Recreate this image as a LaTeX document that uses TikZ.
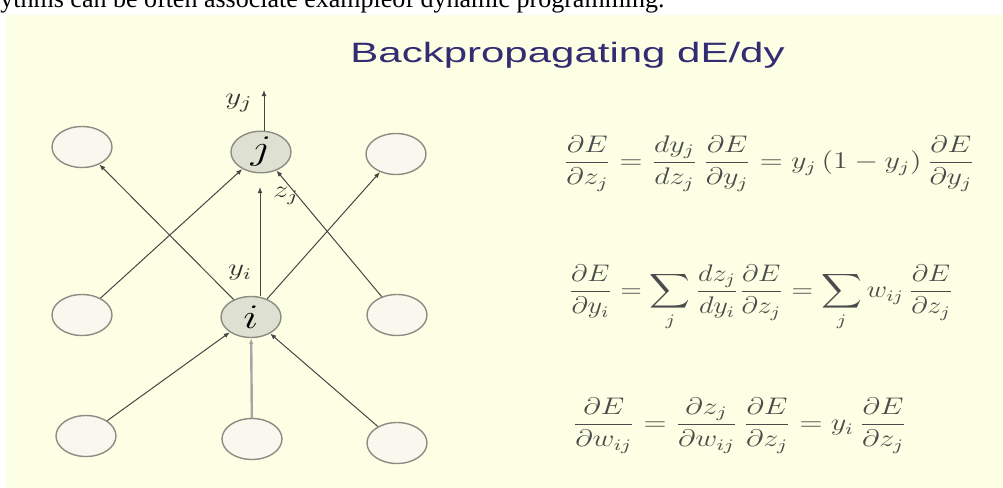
\documentclass[tikz,border=0pt]{standalone}
\usepackage{fontspec}
\setmainfont{Liberation Serif}
\newfontfamily\titlefont{Liberation Sans}
\usepackage{amsmath}
\usetikzlibrary{shapes.geometric,arrows.meta,calc}
\definecolor{slidebg}{RGB}{253,255,228}
\definecolor{titleblue}{RGB}{50,45,115}
\definecolor{eqgray}{RGB}{75,75,75}
\definecolor{edgegray}{RGB}{70,70,70}
\definecolor{ringgray}{RGB}{140,140,130}
\definecolor{unitfill}{RGB}{248,248,238}
\definecolor{activefill}{RGB}{222,224,210}
\begin{document}
\begin{tikzpicture}[x=0.5pt,y=-0.5pt,
  unit/.style={ellipse,draw=ringgray,line width=0.7pt,fill=unitfill,
    minimum width=30pt,minimum height=20.5pt,inner sep=0pt},
  active/.style={unit,fill=activefill},
  arr/.style={draw=edgegray,line width=0.5pt,-{Latex[length=3pt,width=2.4pt]}},
  lbl/.style={inner sep=0pt,text=black!80},
  eq/.style={inner sep=0pt,anchor=base west,text=eqgray}]
\useasboundingbox (0,0) rectangle (1003,488);
\fill[white] (0,0) rectangle (1003,488);
\fill[slidebg] (6,15) rectangle (1003,488);
% cut-off web text above the slide
\node[anchor=base west,inner sep=0pt,font=\fontsize{13pt}{15pt}\selectfont] (webtext) at (0,7)
  {ythms can be often associate exampleof dynamic programming.};
% title
\node[anchor=base west,inner sep=0pt,text=titleblue] (title) at (350,62)
  {\scalebox{1.5}[1]{\titlefont\fontsize{14pt}{16pt}\selectfont Backpropagating dE/dy}};
% units
\node[unit] (TL) at (82,147) {};
\node[active] (J) at (261,152) {\scalebox{1.3}[1]{\fontsize{16pt}{18pt}\selectfont$j$}};
\node[unit] (TR) at (396,154) {};
\node[unit] (ML) at (82,315) {};
\node[active] (I) at (251,317) {\scalebox{1.3}[1]{\fontsize{16pt}{18pt}\selectfont$i$}};
\node[unit] (MR) at (397,315) {};
\node[unit] (BL) at (86,436) {};
\node[unit] (BM) at (252,439) {};
\node[unit] (BR) at (397,443) {};
% free ends
\coordinate (yjend) at (264,90);
\coordinate (zjend) at (260,187);
% connectors
\draw[arr] (BL) -- (I);
\draw[arr,draw=black!35,line width=1.2pt] (BM) -- (I);
\draw[arr] (BR) -- (I);
\draw[arr] (I) -- (TL);
\draw[arr] (I) -- (TR);
\draw[arr] (ML) -- (J);
\draw[arr] (MR) -- (J);
\draw[arr] (I.north -| zjend) -- (zjend);
\draw[arr] (J.north -| yjend) -- (yjend);
% labels
\node[lbl] (yjlab) at (239,103) {\scalebox{1.3}[1]{\fontsize{13pt}{15pt}\selectfont$y_j$}};
\node[lbl] (zjlab) at (286,196) {\scalebox{1.3}[1]{\fontsize{12pt}{14pt}\selectfont$z_j$}};
\node[lbl] (yilab) at (240,273) {\scalebox{1.3}[1]{\fontsize{12pt}{14pt}\selectfont$y_i$}};
% equations
\node[eq] (eq1) at (563,168.5) {\scalebox{1.255}[1]{\fontsize{12pt}{14pt}\selectfont
  $\displaystyle \frac{\partial E}{\partial z_j} = \frac{dy_j}{dz_j}\,\frac{\partial E}{\partial y_j} = y_j\,(1-y_j)\,\frac{\partial E}{\partial y_j}$}};
\node[eq] (eq2) at (568,297.5) {\scalebox{1.18}[1]{\fontsize{12pt}{14pt}\selectfont
  $\displaystyle \frac{\partial E}{\partial y_i} = \sum_j \frac{dz_j}{dy_i}\frac{\partial E}{\partial z_j} = \sum_j w_{ij}\,\frac{\partial E}{\partial z_j}$}};
\node[eq] (eq3) at (572,430.5) {\scalebox{1.26}[1]{\fontsize{12pt}{14pt}\selectfont
  $\displaystyle \frac{\partial E}{\partial w_{ij}} = \frac{\partial z_j}{\partial w_{ij}}\,\frac{\partial E}{\partial z_j} = y_i\,\frac{\partial E}{\partial z_j}$}};
\end{tikzpicture}
\end{document}
